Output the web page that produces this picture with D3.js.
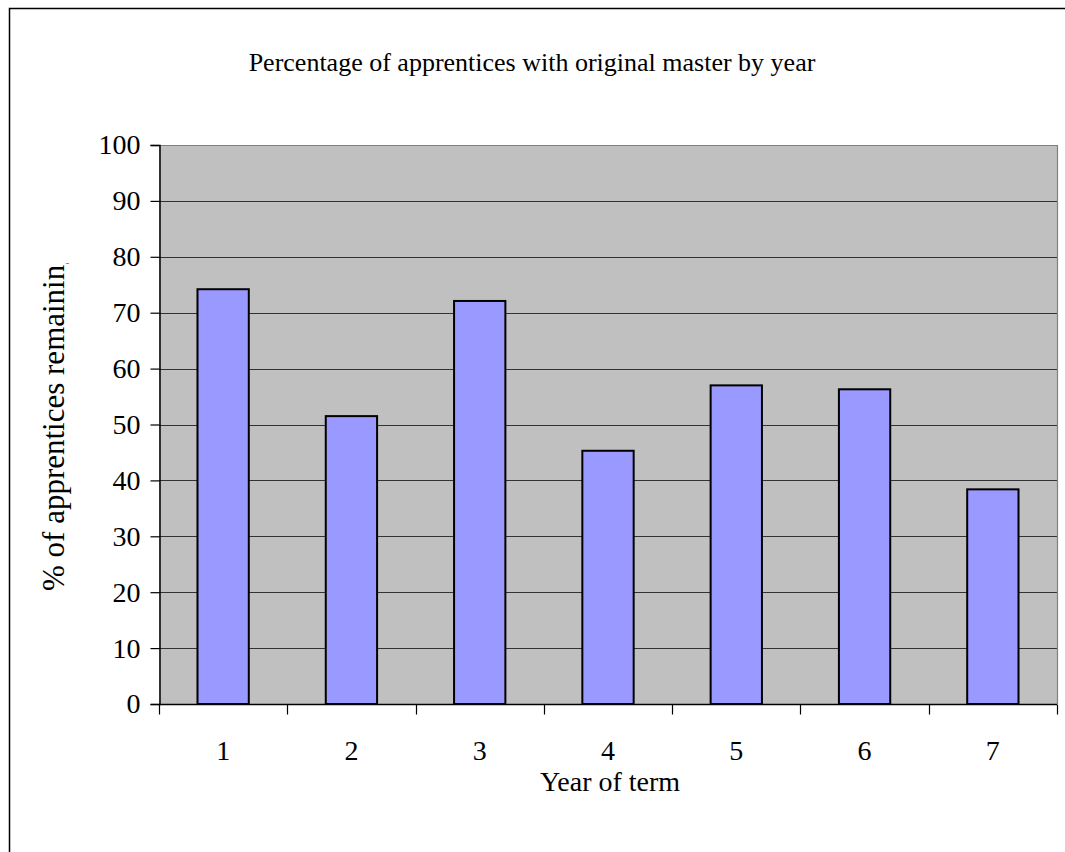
<!DOCTYPE html>
<html>
<head>
<meta charset="utf-8">
<script src="https://cdn.jsdelivr.net/npm/d3@7"></script>
<style>
  html, body { margin: 0; padding: 0; background: #fff; }
  svg { display: block; }
  text { font-family: "Liberation Serif", "Times New Roman", serif; fill: #000; }
</style>
</head>
<body>
<svg id="chart" width="1065" height="852"></svg>
<script>
// Percentage of apprentices still with their original master, per year of term
const years = ["1", "2", "3", "4", "5", "6", "7"];
const percentRemaining = [74.2, 51.5, 72.1, 45.3, 57.0, 56.3, 38.4];
const yTicks = [0, 10, 20, 30, 40, 50, 60, 70, 80, 90, 100];

const titleText = "Percentage of apprentices with original master by year";
const xTitle = "Year of term";
const yTitle = "% of apprentices remaining";

const svg = d3.select("#chart");

// chart frame (left/top edges visible, rest runs off the page)
svg.append("rect")
  .attr("x", 9.5).attr("y", 8.5)
  .attr("width", 1100).attr("height", 900)
  .attr("fill", "#fff")
  .attr("stroke", "#000").attr("stroke-width", 1.5);

const plot = { left: 159, right: 1057, top: 145, bottom: 704 };

const x = d3.scaleBand()
  .domain(years)
  .range([plot.left, plot.right])
  .paddingInner(0.6)
  .paddingOuter(0.3);

const xEdge = d3.scaleLinear()
  .domain([0, years.length])
  .range([plot.left, plot.right]);

const y = d3.scaleLinear()
  .domain([0, 100])
  .range([plot.bottom, plot.top]);

// plot background
svg.append("rect")
  .attr("x", plot.left).attr("y", plot.top)
  .attr("width", plot.right - plot.left)
  .attr("height", plot.bottom - plot.top)
  .attr("fill", "#C0C0C0");

// gridlines
svg.append("g")
  .selectAll("line")
  .data(yTicks.filter(d => d > 0))
  .join("line")
  .attr("x1", plot.left).attr("x2", plot.right)
  .attr("y1", d => Math.round(y(d)) + 0.5)
  .attr("y2", d => Math.round(y(d)) + 0.5)
  .attr("stroke", d => d === 100 ? "#808080" : "#333")
  .attr("stroke-width", 1.2);

// right border of plot area
svg.append("line")
  .attr("x1", plot.right + 0.5).attr("x2", plot.right + 0.5)
  .attr("y1", plot.top).attr("y2", plot.bottom)
  .attr("stroke", "#808080").attr("stroke-width", 1.2);

// bars
svg.append("g")
  .selectAll("rect")
  .data(years.map((k, i) => ({ k, v: percentRemaining[i] })))
  .join("rect")
  .attr("x", d => x(d.k))
  .attr("y", d => y(d.v))
  .attr("width", x.bandwidth())
  .attr("height", d => y(0) - y(d.v))
  .attr("fill", "#9999FF")
  .attr("stroke", "#000")
  .attr("stroke-width", 2);

// y axis
const yAxis = d3.axisLeft(y)
  .tickValues(yTicks)
  .tickSize(9)
  .tickPadding(10)
  .tickFormat(d3.format("d"));

const gy = svg.append("g")
  .attr("transform", `translate(${plot.left + 0.5},0)`)
  .call(yAxis);
gy.select(".domain").attr("stroke", "#000").attr("stroke-width", 1.5);
gy.selectAll(".tick line").attr("stroke", "#000").attr("stroke-width", 1.2);
gy.selectAll(".tick text")
  .attr("font-size", 28)
  .attr("font-family", "Liberation Serif, Times New Roman, serif")
  .attr("fill", "#000");

// x axis: category labels centred, tick marks at category boundaries
const gx = svg.append("g")
  .attr("transform", `translate(0,${plot.bottom + 0.5})`);
gx.append("line")
  .attr("x1", plot.left).attr("x2", plot.right)
  .attr("stroke", "#000").attr("stroke-width", 1.5);
gx.selectAll("line.tk")
  .data(d3.range(years.length + 1))
  .join("line")
  .attr("class", "tk")
  .attr("x1", d => Math.round(xEdge(d)) + 0.5)
  .attr("x2", d => Math.round(xEdge(d)) + 0.5)
  .attr("y1", 0).attr("y2", 10)
  .attr("stroke", "#000").attr("stroke-width", 1.2);
gx.selectAll("text")
  .data(years)
  .join("text")
  .attr("x", d => x(d) + x.bandwidth() / 2)
  .attr("y", 55)
  .attr("text-anchor", "middle")
  .attr("font-size", 28)
  .text(d => d);

// title
svg.append("text")
  .attr("x", 532).attr("y", 71)
  .attr("text-anchor", "middle")
  .attr("font-size", 26)
  .text(titleText);

// x axis title
svg.append("text")
  .attr("x", 610).attr("y", 791)
  .attr("text-anchor", "middle")
  .attr("font-size", 28)
  .text(xTitle);

// y axis title, clipped at the top like the fixed-size label box
svg.append("clipPath").attr("id", "ylabClip")
  .append("rect").attr("x", 0).attr("y", 263).attr("width", 150).attr("height", 400);
svg.append("g").attr("clip-path", "url(#ylabClip)")
  .append("text")
  .attr("transform", "translate(64,591) rotate(-90)")
  .attr("text-anchor", "start")
  .attr("font-size", 31)
  .text(yTitle);
</script>
</body>
</html>
